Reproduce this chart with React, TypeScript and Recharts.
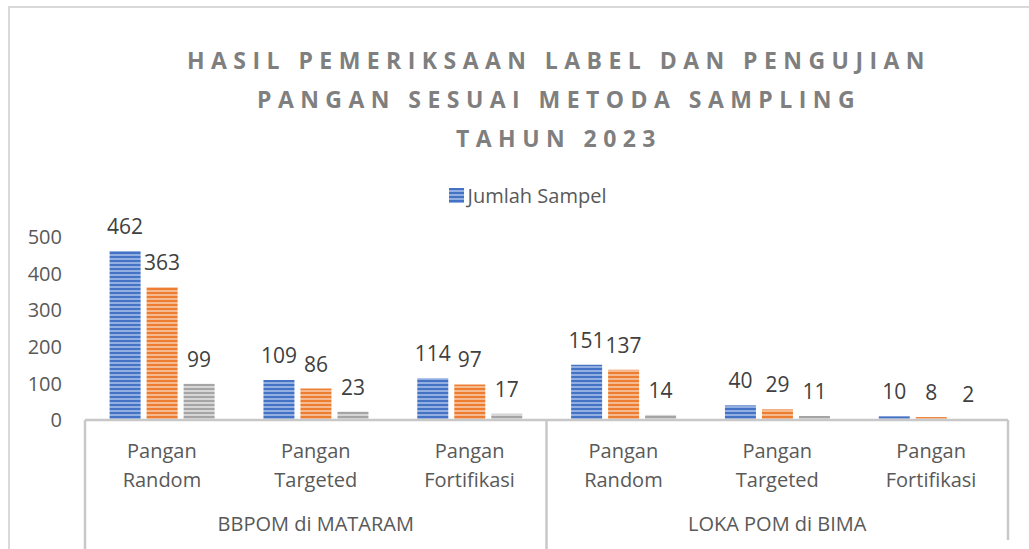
import { BarChart, Bar, XAxis, YAxis, LabelList } from 'recharts';

const categories = ["Pangan Random", "Pangan Targeted", "Pangan Fortifikasi", "Pangan Random", "Pangan Targeted", "Pangan Fortifikasi"];
const groups = ["BBPOM di MATARAM", "BBPOM di MATARAM", "BBPOM di MATARAM", "LOKA POM di BIMA", "LOKA POM di BIMA", "LOKA POM di BIMA"];
const seriesA = [462, 109, 114, 151, 40, 10];
const seriesB = [363, 86, 97, 137, 29, 8];
const seriesC = [99, 23, 17, 14, 11, 2];
const yTicks = [0, 100, 200, 300, 400, 500];
const titleLines = ["HASIL PEMERIKSAAN LABEL DAN PENGUJIAN", "PANGAN SESUAI METODA SAMPLING", "TAHUN 2023"];
const legendLabel = "Jumlah Sampel";

const data = categories.map((c, i) => ({ cat: c, group: groups[i], a: seriesA[i], b: seriesB[i], c: seriesC[i] }));

const W = 1029;
const H = 549;
const X_HEIGHT = 30;
const MARGIN = { top: 237, right: 21, bottom: 129 - X_HEIGHT, left: 0 };
const Y_WIDTH = 85;
const BAND = (W - MARGIN.left - Y_WIDTH - MARGIN.right) / categories.length;
const FONT = '"Open Sans", sans-serif';
const LINE = '#c8c8c8';
const LABEL_OFFSET = 17;

const CategoryTick = (props: any) => {
    const { x, y, payload, index } = props;
    const words = String(payload.value).split(' ');
    const grp = groups[index];
    const isFirst = index === 0 || groups[index - 1] !== grp;
    const isLast = index === groups.length - 1;
    const members = groups.filter((g) => g === grp).length;
    const firstIdx = groups.indexOf(grp);
    const isMiddle = index === firstIdx + Math.floor(members / 2);
    return (
        <g>
            {words.map((w, i) => (
                <text key={i} x={x} y={y + 38 + i * 29} textAnchor="middle" fill="#595959" fontSize={20} fontFamily={FONT}>{w}</text>
            ))}
            {isMiddle && (
                <text x={x} y={y + 111} textAnchor="middle" fill="#595959" fontSize={20} fontFamily={FONT}>{grp}</text>
            )}
            {isFirst && <line x1={x - BAND / 2} x2={x - BAND / 2} y1={y} y2={H} stroke={LINE} strokeWidth={2.5} />}
            {isLast && <line x1={x + BAND / 2} x2={x + BAND / 2} y1={y} y2={y + 120} stroke={LINE} strokeWidth={2.5} />}
        </g>
    );
};

const stripes = [
    { id: 'stripeBlue', base: '#4472C4', light: '#93AEE0' },
    { id: 'stripeOrange', base: '#ED7D31', light: '#F6BA90' },
    { id: 'stripeGray', base: '#A5A5A5', light: '#D6D6D6' },
];

const StripeDefs = () => (
    <defs>
        {stripes.map((s) => (
            <pattern key={s.id} id={s.id} width={4} height={4} patternUnits="userSpaceOnUse">
                <rect width={4} height={4} fill={s.light} />
                <rect width={4} height={2} fill={s.base} />
            </pattern>
        ))}
    </defs>
);

const App = () => {
    return (
        <div style={{ position: 'absolute', left: 0, top: 0, width: W, height: H, overflow: 'hidden', background: '#fff' }}>
            <div style={{ position: 'absolute', left: 8, top: 6, width: W + 20, height: H + 20, border: '2px solid #d9d9d9' }} />
            <div style={{ position: 'absolute', left: -5, top: 41, width: 1116, textAlign: 'center', fontFamily: FONT, fontWeight: 700, fontSize: 23, lineHeight: '39px', letterSpacing: 6.45, paddingLeft: 6, color: '#7f7f7f' }}>
                {titleLines.map((t, i) => <div key={i}>{t}</div>)}
            </div>
            <div style={{ position: 'absolute', left: 0, top: 182, width: W, display: 'flex', justifyContent: 'center', alignItems: 'center', fontFamily: FONT, fontSize: 20, color: '#595959', paddingLeft: 26, boxSizing: 'border-box' }}>
                <svg width={15} height={15} style={{ marginRight: 4 }}>
                    <rect width={15} height={15} fill="url(#stripeBlue)" />
                </svg>
                <span>{legendLabel}</span>
            </div>
            <BarChart width={W} height={H} data={data} margin={MARGIN} barCategoryGap="16%" barGap={6} style={{ position: 'absolute', left: 0, top: 0 }}>
                <StripeDefs />
                <XAxis dataKey="cat" height={X_HEIGHT} interval={0} tickSize={0} tickMargin={0} tick={<CategoryTick />} axisLine={{ stroke: LINE, strokeWidth: 2.5 }} tickLine={false} />
                <YAxis width={Y_WIDTH} domain={[0, 500]} ticks={yTicks} interval={0} axisLine={false} tickLine={false} tickSize={0} tickMargin={23} tick={{ fill: '#595959', fontSize: 20, fontFamily: FONT }} />
                <Bar dataKey="a" name={legendLabel} fill="url(#stripeBlue)" isAnimationActive={false}>
                    <LabelList dataKey="a" position="top" offset={LABEL_OFFSET} fill="#404040" fontSize={21} fontFamily={FONT} />
                </Bar>
                <Bar dataKey="b" fill="url(#stripeOrange)" isAnimationActive={false}>
                    <LabelList dataKey="b" position="top" offset={LABEL_OFFSET} fill="#404040" fontSize={21} fontFamily={FONT} />
                </Bar>
                <Bar dataKey="c" fill="url(#stripeGray)" isAnimationActive={false}>
                    <LabelList dataKey="c" position="top" offset={LABEL_OFFSET} fill="#404040" fontSize={21} fontFamily={FONT} />
                </Bar>
            </BarChart>
        </div>
    );
};

export default App;
